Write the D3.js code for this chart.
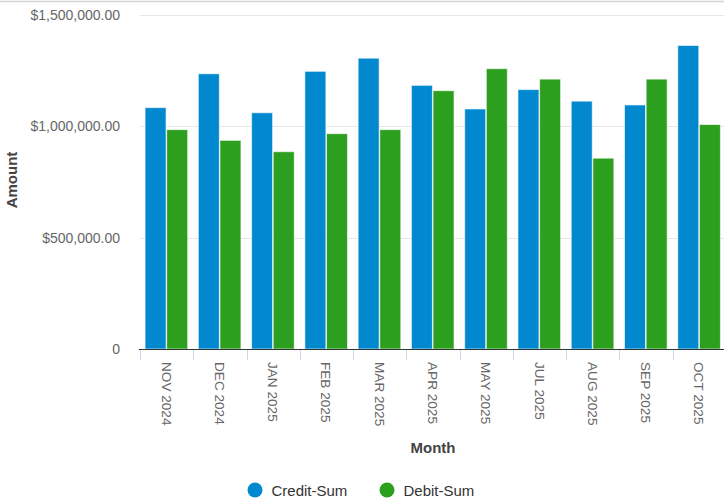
<!DOCTYPE html>
<html><head><meta charset="utf-8">
<script src="https://cdn.jsdelivr.net/npm/d3@7"></script>
<style>
html,body{margin:0;padding:0;background:#fff;}
text{font-family:"Liberation Sans",Arial,Helvetica,sans-serif;}
</style></head>
<body><svg id="c" width="724" height="499"></svg>
<script>
const categories = ["NOV 2024","DEC 2024","JAN 2025","FEB 2025","MAR 2025","APR 2025","MAY 2025","JUL 2025","AUG 2025","SEP 2025","OCT 2025"];
const seriesNames = ["Credit-Sum","Debit-Sum"];
const creditSum = [1084000,1236000,1061000,1247000,1306000,1184000,1078000,1165000,1113000,1096000,1363000];
const debitSum  = [985000,937000,886000,967000,985000,1160000,1259000,1212000,857000,1212000,1008000];
const yTicks = [0,500000,1000000,1500000];
const colors = ["#0288cf","#2d9f1f"];

(function(){
const svg = d3.select("#c");
const pLeft = 140, pRight = 726, pTop = 15, pBottom = 349;

svg.append("line").attr("x1",0).attr("x2",724).attr("y1",1.5).attr("y2",1.5)
  .attr("stroke","#d4d4d4").attr("stroke-width",1.5);

const y = d3.scaleLinear().domain([0,1500000]).range([pBottom, pTop]);
const x0 = d3.scaleBand().domain(categories).range([pLeft, pRight]);
const x1 = d3.scaleBand().domain(seriesNames)
  .range([x0.bandwidth()*0.095, x0.bandwidth()*0.895]).paddingInner(0.03);

const fmt = v => v === 0 ? "0" : "$" + d3.format(",.2f")(v);

svg.append("g").selectAll("line").data(yTicks.filter(d=>d>0)).join("line")
  .attr("x1",pLeft).attr("x2",724).attr("y1",d=>Math.round(y(d))+0.5).attr("y2",d=>Math.round(y(d))+0.5)
  .attr("stroke","#e6e6e6").attr("stroke-width",1);

svg.append("g").selectAll("text").data(yTicks).join("text")
  .attr("x",120).attr("y",d=>y(d)+5).attr("text-anchor","end")
  .attr("font-size","14px").attr("fill","#666").text(fmt);

const data = categories.map((c,i)=>({cat:c, vals:[creditSum[i], debitSum[i]]}));
const g = svg.append("g").selectAll("g").data(data).join("g")
  .attr("transform", d=>`translate(${x0(d.cat)},0)`);
g.selectAll("rect").data(d=>d.vals.map((v,j)=>({v, s:seriesNames[j], j}))).join("rect")
  .attr("x", d=>x1(d.s)).attr("width", x1.bandwidth())
  .attr("y", d=>y(d.v)).attr("height", d=>pBottom - y(d.v))
  .attr("fill", d=>colors[d.j]).attr("stroke","#fff").attr("stroke-opacity",0.6).attr("stroke-width",1);

svg.append("line").attr("x1",pLeft-1).attr("x2",724).attr("y1",pBottom+0.5).attr("y2",pBottom+0.5)
  .attr("stroke","#333").attr("stroke-width",1);
svg.append("g").selectAll("line").data(categories).join("line")
  .attr("x1",d=>Math.round(x0(d))+0.5).attr("x2",d=>Math.round(x0(d))+0.5)
  .attr("y1",pBottom+1).attr("y2",pBottom+11).attr("stroke","#ccd6eb").attr("stroke-width",1);

svg.append("g").selectAll("text").data(categories).join("text")
  .attr("transform", d=>`translate(${x0(d)+x0.bandwidth()/2-5},${pBottom+13}) rotate(90)`)
  .attr("text-anchor","start").attr("font-size","13.6px").attr("fill","#666").text(d=>d);

svg.append("text").attr("transform",`translate(17,180) rotate(-90)`).attr("text-anchor","middle")
  .attr("font-size","15px").attr("font-weight","bold").attr("fill","#444").text("Amount");
svg.append("text").attr("x",(pLeft+pRight)/2).attr("y",453).attr("text-anchor","middle")
  .attr("font-size","15px").attr("font-weight","bold").attr("fill","#444").text("Month");

const legX = [255, 387];
const lg = svg.append("g").selectAll("g").data(seriesNames).join("g")
  .attr("transform",(d,i)=>`translate(${legX[i]},490)`);
lg.append("circle").attr("r",7.5).attr("fill",(d,i)=>colors[i]);
lg.append("text").attr("x",16.5).attr("y",5.5).attr("font-size","15px").attr("fill","#333").text(d=>d);
})();
</script></body></html>
